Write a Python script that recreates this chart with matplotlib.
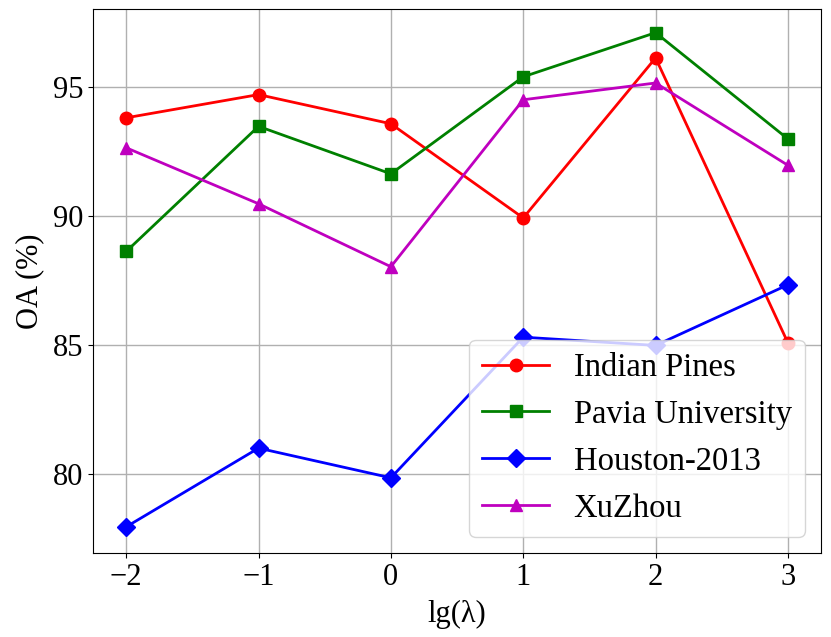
import matplotlib
matplotlib.use('Agg')
import matplotlib.pyplot as plt

# lg(lambda) values
lam = [-2, -1, 0, 1, 2, 3]

indian_pines = [93.80, 94.70, 93.57, 89.92, 96.12, 85.08]
pavia_univ = [88.62, 93.47, 91.63, 95.39, 97.10, 92.98]
houston = [77.95, 81.00, 79.85, 85.30, 84.98, 87.33]
xuzhou = [92.64, 90.47, 88.03, 94.50, 95.15, 91.96]

labels = ['Indian Pines', 'Pavia University', 'Houston-2013', 'XuZhou']

plt.rcParams['font.family'] = ['Liberation Serif', 'DejaVu Serif']

fig = plt.figure(figsize=(8.31, 6.37), dpi=100)
ax = fig.add_axes([0.112, 0.132, 0.876, 0.854])

ax.plot(lam, indian_pines, 'r-o', lw=2, ms=9, label=labels[0])
ax.plot(lam, pavia_univ, 'g-s', lw=2, ms=9, label=labels[1])
ax.plot(lam, houston, 'b-D', lw=2, ms=9, label=labels[2])
ax.plot(lam, xuzhou, 'm-^', lw=2, ms=9, label=labels[3])

ax.set_xlabel('lg(λ)', fontsize=22, labelpad=6)
ax.set_ylabel('OA (%)', fontsize=22, labelpad=6)
ax.set_xticks(lam)
ax.set_yticks([80, 85, 90, 95])
ax.set_ylim(76.94, 98.02)
ax.tick_params(labelsize=22)
ax.grid(True, color='#b0b0b0', lw=1)

ax.legend(loc='lower right', fontsize=23.5, handlelength=2.05,
          handletextpad=0.75, labelspacing=0.5, borderpad=0.4)

plt.savefig('out.png', dpi=100)
